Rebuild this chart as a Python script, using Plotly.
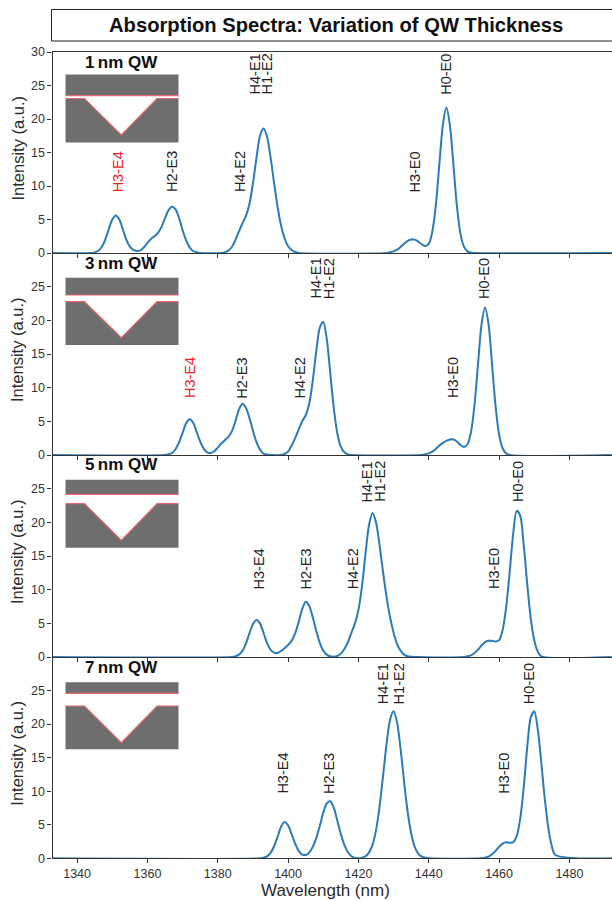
import plotly.graph_objects as go

# ---------- data ----------
x1 = [1333,1344,1345,1346,1347,1348,1349,1350,1351,1352,1353,1354,1355,1356,1357,1358,1359,1360,1361,1362,1363,1364,1365,1366,1367,1368,1369,1370,1371,1372,1373,1374,1375,1381,1382,1383,1384,1385,1386,1387,1388,1389,1390,1391,1392,1393,1394,1395,1396,1397,1398,1399,1400,1401,1402,1403,1428,1429,1430,1431,1432,1433,1434,1435,1436,1437,1438,1439,1440,1441,1442,1443,1444,1445,1446,1447,1448,1449,1450,1451,1452,1453,1492]
y1 = [0,0,.1,.33,.9,2.0,3.55,5.0,5.6,5.0,3.55,2.0,.95,.45,.3,.4,.85,1.5,2.1,2.5,3.0,3.9,5.2,6.4,6.9,6.5,5.2,3.4,1.9,.85,.3,.1,0,0,.1,.35,.9,1.9,3.2,4.4,5.5,7.3,10.4,14.2,17.5,18.6,17.4,14.3,10.5,6.9,4.1,2.2,1.0,.45,.15,0,0,.1,.25,.5,.9,1.4,1.8,2.0,2.0,1.7,1.3,1.05,1.35,3.2,7.1,13.2,19.1,21.7,19.1,13.2,7.0,2.9,.95,.24,.05,0,0]

x2 = [1333,1365,1366,1367,1368,1369,1370,1371,1372,1373,1374,1375,1376,1377,1378,1379,1380,1381,1382,1383,1384,1385,1386,1387,1388,1389,1390,1391,1392,1393,1398,1399,1400,1401,1402,1403,1404,1405,1406,1407,1408,1409,1410,1411,1412,1413,1414,1415,1416,1417,1418,1438,1439,1440,1441,1442,1443,1444,1445,1446,1447,1448,1449,1450,1451,1452,1453,1454,1455,1456,1457,1458,1459,1460,1461,1462,1463,1492]
y2 = [0,0,.1,.3,.85,1.9,3.3,4.7,5.3,4.8,3.4,2.0,.95,.4,.3,.55,1.1,1.7,2.2,2.7,3.5,5.0,6.7,7.6,7.0,5.5,3.6,1.9,.8,.2,0,.15,.5,1.4,2.5,3.8,5.0,5.9,7.6,11.0,15.4,18.9,19.8,17.2,12.1,6.9,3.2,1.2,.4,.1,0,0,.1,.25,.5,.9,1.4,1.8,2.1,2.3,2.3,2.0,1.5,1.2,1.6,3.4,7.4,13.5,19.4,21.9,19.4,13.4,7.2,3.0,1.0,.25,0,0]

x3 = [1333,1384,1385,1386,1387,1388,1389,1390,1391,1392,1393,1394,1395,1396,1397,1398,1399,1400,1401,1402,1403,1404,1405,1406,1407,1408,1409,1410,1411,1412,1413,1414,1415,1416,1417,1418,1419,1420,1421,1422,1423,1424,1425,1426,1427,1428,1429,1430,1431,1432,1433,1434,1450,1451,1452,1453,1454,1455,1456,1457,1458,1459,1460,1461,1462,1463,1464,1465,1466,1467,1468,1469,1470,1471,1472,1492]
y3 = [0,0,.1,.35,.9,2.0,3.5,4.9,5.5,5.0,3.6,2.1,1.1,.65,.6,.9,1.3,1.8,2.4,3.5,5.2,7.1,8.2,7.6,5.9,3.9,2.1,.95,.35,.1,.05,.15,.5,1.2,2.2,3.6,5.0,7.0,10.5,15.3,19.6,21.4,20.0,16.6,12.6,8.9,5.9,3.6,1.9,.9,.35,.1,0,.1,.25,.6,1.1,1.7,2.2,2.4,2.4,2.3,2.5,4.0,7.4,12.6,18.3,21.7,21.0,16.6,10.8,5.7,2.5,.8,.1,0]

x4 = [1333,1392,1393,1394,1395,1396,1397,1398,1399,1400,1401,1402,1403,1404,1405,1406,1407,1408,1409,1410,1411,1412,1413,1414,1415,1416,1417,1418,1419,1420,1421,1422,1423,1424,1425,1426,1427,1428,1429,1430,1431,1432,1433,1434,1435,1436,1437,1438,1439,1440,1455,1456,1457,1458,1459,1460,1461,1462,1463,1464,1465,1466,1467,1468,1469,1470,1471,1472,1473,1474,1475,1476,1492]
y4 = [0,0,.1,.3,.8,1.8,3.2,4.7,5.4,4.9,3.6,2.2,1.1,.55,.5,.85,1.7,3.0,4.8,6.8,8.2,8.5,7.5,5.6,3.6,2.0,.9,.3,.05,0,.1,.3,.85,2.0,4.2,7.7,12.3,17.1,20.7,21.9,20.2,16.2,11.3,6.9,3.7,1.7,.7,.25,.1,0,0,.1,.25,.6,1.1,1.7,2.2,2.4,2.3,2.4,3.3,5.9,10.6,16.6,21.0,21.9,19.2,14.2,8.8,4.5,1.8,.5,0]

panel_names = ["1\u2009nm QW", "3\u2009nm QW", "5\u2009nm QW", "7\u2009nm QW"]

names1 = ["H3-E4","H2-E3","H4-E2","H4-E1","H1-E2","H3-E0","H0-E0"]
lx1 = [1351.5,1367,1386.4,1390.6,1394,1436,1445]
ly1 = [8.76,8.76,8.76,23.3,23.3,8.76,23.3]
names2 = ["H3-E4","H2-E3","H4-E2","H4-E1","H1-E2","H3-E0","H0-E0"]
lx2 = [1372.1,1386.8,1403.5,1408,1411.6,1446.9,1455.9]
ly2 = [8.1,8.1,8.1,22.9,22.9,8.1,22.9]
names3 = ["H3-E4","H2-E3","H4-E2","H4-E1","H1-E2","H3-E0","H0-E0"]
lx3 = [1391.6,1405,1418.3,1422.4,1425.9,1458.6,1465.2]
ly3 = [9.75,9.75,9.75,22.7,22.7,9.75,22.7]
names4 = ["H3-E4","H2-E3","H4-E1","H1-E2","H3-E0","H0-E0"]
lx4 = [1398.7,1411.6,1427,1431.6,1461.3,1468.5]
ly4 = [9.35,9.35,22.6,22.6,9.35,22.6]

red_labels = {0: ["H3-E4"], 1: ["H3-E4"], 2: [], 3: []}

x_ticks = [1340,1360,1380,1400,1420,1440,1460,1480]
y_ticks = [0,5,10,15,20,25,30]

# ---------- layout constants (pixels) ----------
W, H = 612, 901
FONT = "Liberation Sans"
LINE = "#333333"
panels_px = [(52, 253), (253, 455), (455, 657), (657, 858.3)]
insets_px = [  # block top, upper block bottom, lower block top, vertex y, bottom
    (74.5, 95.7, 98.5, 135, 142.5),
    (277.7, 295, 301.7, 337.7, 345),
    (479.7, 494.3, 503.7, 540.3, 547.7),
    (682.3, 693.3, 706, 742.7, 749.3),
]
def px(v): return v / W
def py(v): return 1 - v / H

fig = go.Figure()
series = [(x1, y1), (x2, y2), (x3, y3), (x4, y4)]
labels = [(names1, lx1, ly1), (names2, lx2, ly2), (names3, lx3, ly3), (names4, lx4, ly4)]
ann, shp = [], []
layout = {}
for i, ((xs, ys), (top, bot)) in enumerate(zip(series, panels_px)):
    s = "" if i == 0 else str(i + 1)
    fig.add_trace(go.Scatter(x=xs, y=ys, mode="lines", xaxis=f"x{s}", yaxis=f"y{s}",
                             line=dict(color="#2b7bba", width=2, shape="spline", smoothing=0.8),
                             showlegend=False, hoverinfo="skip", cliponaxis=False))
    layout[f"xaxis{s}"] = dict(
        domain=[px(52.5), 1], range=[1333.0, 1492.1], anchor=f"y{s}", automargin=False,
        tickvals=x_ticks, ticks="outside", ticklen=4, tickwidth=1, tickcolor=LINE,
        showticklabels=(i == 3), showgrid=False, zeroline=False,
        showline=True, linecolor=LINE, linewidth=1.2, mirror=(i == 0),
        tickfont=dict(family=FONT, size=12.5, color="#333333"),
    )
    layout[f"yaxis{s}"] = dict(
        domain=[py(bot), py(top)], range=[0, 30], anchor=f"x{s}", automargin=False,
        tickvals=y_ticks if i == 0 else y_ticks[:-1], ticks="outside", ticklen=4, tickwidth=1,
        tickcolor=LINE, showgrid=False, zeroline=False, showline=True, linecolor=LINE,
        linewidth=1.2, tickfont=dict(family=FONT, size=12.5, color="#333333"),
    )
    ann.append(dict(x=px(17), y=py((top + bot) / 2 - 4), xref="paper", yref="paper", text="Intensity (a.u.)",
                    textangle=-90, showarrow=False, xanchor="center", yanchor="middle",
                    font=dict(family=FONT, size=16.5, color="#2a2a2a")))
    # transition labels
    for name, lx, ly in zip(*labels[i]):
        ann.append(dict(x=lx, y=ly, xref=f"x{s}", yref=f"y{s}", text=name, textangle=-90,
                        showarrow=False, xanchor="center", yanchor="bottom",
                        font=dict(family=FONT, size=14.5,
                                  color="#ee2222" if name in red_labels[i] else "#222222")))
    # panel label
    ann.append(dict(x=px(121), y=py(top + 10), xref="paper", yref="paper", text=f"<b>{panel_names[i]}</b>",
                    showarrow=False, xanchor="center", yanchor="middle",
                    font=dict(family=FONT, size=17, color="#111111")))
    # inset schematic
    t, ub, lt, vy, b = insets_px[i]
    xl, xr, vl, vc, vr = 65.5, 178.5, 84.5, 121.3, 157
    P = lambda a, c: f"{px(a)},{py(c)}"
    shp.append(dict(type="rect", xref="paper", yref="paper", x0=px(xl), x1=px(xr), y0=py(t), y1=py(ub),
                    fillcolor="#6e6e6e", line_width=0, layer="above"))
    path = "M " + " L ".join(P(a, c) for a, c in [(xl, lt), (vl, lt), (vc, vy), (vr, lt), (xr, lt), (xr, b), (xl, b)]) + " Z"
    shp.append(dict(type="path", xref="paper", yref="paper", path=path, fillcolor="#6e6e6e", line_width=0, layer="above"))
    red = "M " + " L ".join(P(a, c) for a, c in [(xl, lt), (vl, lt), (vc, vy), (vr, lt), (xr, lt)])
    shp.append(dict(type="path", xref="paper", yref="paper", path=red, line=dict(color="#e4686c", width=1.2), layer="above"))
    shp.append(dict(type="line", xref="paper", yref="paper", x0=px(xl), x1=px(xr), y0=py(ub), y1=py(ub),
                    line=dict(color="#e4686c", width=1.2), layer="above"))

ann.append(dict(x=px(325.5), y=py(890.5), xref="paper", yref="paper", xanchor="center", yanchor="middle",
                showarrow=False, text="Wavelength (nm)", font=dict(family=FONT, size=17, color="#2a2a2a")))
# title box
shp.append(dict(type="rect", xref="paper", yref="paper", x0=px(51.5), x1=px(640), y0=py(41), y1=py(9.5),
                line=dict(color="#222222", width=1), fillcolor="white", layer="below"))
ann.append(dict(x=px(335.5), y=py(25), xref="paper", yref="paper", xanchor="center", yanchor="middle",
                showarrow=False, text="<b>Absorption Spectra: Variation of QW Thickness</b>",
                font=dict(family=FONT, size=20.2, color="#111111")))

fig.update_layout(width=W, height=H, margin=dict(l=0, r=0, t=0, b=0), autosize=False,
                  paper_bgcolor="white", plot_bgcolor="white",
                  annotations=ann, shapes=shp, **layout)
fig.write_html("out.html", config=dict(displayModeBar=False),
               post_script="document.body.style.margin='0';document.documentElement.style.overflow='hidden';")
